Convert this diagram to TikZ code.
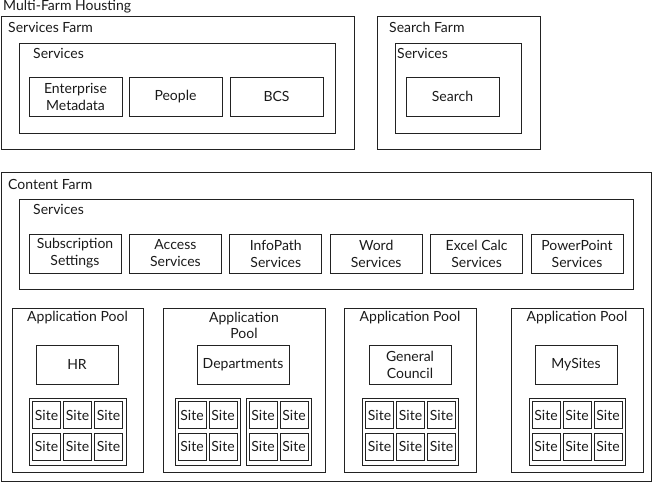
\documentclass[tikz,border=0pt]{standalone}
\usepackage{fontspec}
\setmainfont{Lato}
\definecolor{lineGray}{HTML}{222222}
\definecolor{textGray}{HTML}{1A1A1A}

\begin{document}
\begin{tikzpicture}[x=1pt,y=-1pt,
  box/.style={draw=lineGray,line width=1pt,inner sep=0pt},
  item/.style={box,align=center,font=\fontsize{14}{17}\selectfont,text=textGray,minimum width=#1,minimum height=39},
  item/.default=92,
  site/.style={box,font=\fontsize{14}{17}\selectfont,text=textGray,minimum width=28,minimum height=27},
  lbl/.style={anchor=west,inner sep=0pt,font=\fontsize{14}{16}\selectfont,text=textGray},
  plbl/.style={inner sep=0pt,align=center,font=\fontsize{14}{16.5}\selectfont,text=textGray}]
  \useasboundingbox (0,0) rectangle (653,483);
  \node[lbl] (mfh) at (3,6.5) {Multi-Farm Housting};
  % services farm
  \node[box,minimum width=353,minimum height=133] (sfarm) at (177.5,82.5) {};
  \node[lbl] (sfarmlbl) at (8,27.5) {Services Farm};
  \node[box,minimum width=316,minimum height=90] (sfsvc) at (177,88) {};
  \node[lbl] (sfsvclbl) at (33,53.5) {Services};
  \node[item=93] (entmeta) at (75.5,96.5) {Enterprise\\Metadata};
  \node[item=93] (people) at (175.5,96.5) {People};
  \node[item=93] (bcs) at (276.5,96.5) {BCS};
  % search farm
  \node[box,minimum width=163,minimum height=133] (qfarm) at (458.5,82.5) {};
  \node[lbl] (qfarmlbl) at (389,27.5) {Search Farm};
  \node[box,minimum width=126,minimum height=90] (qfsvc) at (458,88) {};
  \node[lbl] (qfsvclbl) at (397,53.5) {Services};
  \node[item=93] (search) at (452.5,96.5) {Search};
  % content farm
  \node[box,minimum width=650,minimum height=309] (cfarm) at (326,326.5) {};
  \node[lbl] (cfarmlbl) at (8,184.5) {Content Farm};
  \node[box,minimum width=614,minimum height=90] (cfsvc) at (326,244) {};
  \node[lbl] (cfsvclbl) at (33,209.5) {Services};
  \foreach \n/\t [count=\i from 0] in {subs/Subscription\\Settings,access/Access\\Services,
      infopath/InfoPath\\Services,word/Word\\Services,excel/Excel Calc\\Services,ppt/PowerPoint\\Services}
    \node[item] (\n) at (75+100.4*\i,253.5) {\t};
  % application pools
  \foreach \n/\c/\w in {poolA/77.5/131,poolB/244/162,poolC/410/132,poolD/577/132}
    \node[box,minimum width=\w,minimum height=164] (\n) at (\c,390) {};
  \node[plbl] (poolAlbl) at (77.5,317.5) {Application Pool};
  \node[plbl] (poolBlbl) at (244,325.5) {Application\\Pool};
  \node[plbl] (poolClbl) at (410,317.5) {Application Pool};
  \node[plbl] (poolDlbl) at (577,317.5) {Application Pool};
  \node[item=82] (hr) at (77,364.5) {HR};
  \node[item=92] (depts) at (243,364.5) {Departments};
  \node[item=82] (council) at (410,364.5) {General\\Council};
  \node[item=82] (mysites) at (576,364.5) {MySites};
  % site collections
  \foreach \n/\c/\w in {sitesA/77.5/97,sitesB/207.5/65,sitesC/278.5/65,sitesD/410/96,sitesE/577/96}
    \node[box,minimum width=\w,minimum height=67] (\n) at (\c,431.5) {};
  \foreach \n/\c in {sitesA/77.5,sitesD/410.5,sitesE/577}
    \foreach \dx [count=\i] in {-31,0,31}
      \foreach \y [count=\j] in {415,446.5}
        \node[site] (\n-\j\i) at (\c+\dx,\y) {Site};
  \foreach \n/\c in {sitesB/207.5,sitesC/278.5}
    \foreach \dx [count=\i] in {-15.5,15.5}
      \foreach \y [count=\j] in {415,446.5}
        \node[site] (\n-\j\i) at (\c+\dx,\y) {Site};
\end{tikzpicture}
\end{document}
